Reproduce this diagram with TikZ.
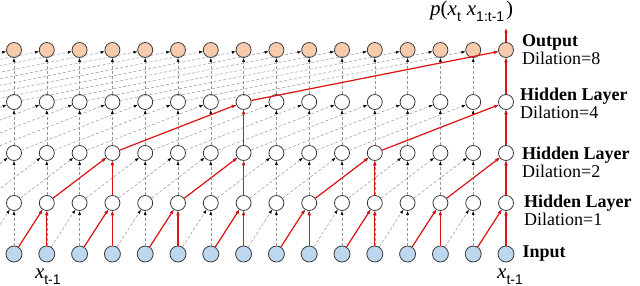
\documentclass[tikz,border=0pt]{standalone}
\usepackage{fontspec}
\setmainfont{Liberation Serif}
\setsansfont{Liberation Sans}
\usetikzlibrary{arrows.meta, positioning}
\definecolor{outpeach}{RGB}{248,203,173}
\definecolor{inblue}{RGB}{189,215,238}
\definecolor{ringgray}{RGB}{60,60,60}
\definecolor{pathred}{RGB}{222,20,20}
\definecolor{linkgray}{RGB}{150,150,150}
\newcommand{\lowsub}[1]{\raisebox{-6pt}{\fontsize{14}{14}\sffamily #1}}

\begin{document}
\begin{tikzpicture}[
    x=1pt, y=-1pt,
    unit/.style={circle, draw=ringgray, line width=0.8pt, inner sep=0pt, minimum size=15pt, fill=white},
    outunit/.style={unit, fill=outpeach},
    inunit/.style={unit, fill=inblue, minimum size=16pt},
    link/.style={-{Latex[length=4pt,width=3pt,color=black]}, linkgray, dash pattern=on 3pt off 2pt, line width=0.5pt},
    redlink/.style={-{Latex[length=4.5pt,width=3.5pt]}, pathred, line width=1.2pt},
    layer/.style={align=left, font=\fontsize{18}{18}\selectfont, inner sep=0pt},
    xlbl/.style={font=\fontsize{21}{21}\selectfont, inner sep=0pt}
]
\useasboundingbox (0,0) rectangle (640,286);
\clip (0,0) rectangle (640,286);

% units of each layer
\foreach \k in {0,...,15} {
  \node[inunit]  (in-\k)   at ({14+32.8*\k},254) {};
  \node[unit]    (hid1-\k) at ({14+32.8*\k},203) {};
  \node[unit]    (hid2-\k) at ({14+32.8*\k},153) {};
  \node[unit]    (hid3-\k) at ({14+32.8*\k},102) {};
  \node[outunit] (out-\k)  at ({14+32.8*\k},50) {};
}
% sources beyond the left edge
\foreach \k in {-8,...,-1} {
  \coordinate (in-\k)   at ({14+32.8*\k},254);
  \coordinate (hid1-\k) at ({14+32.8*\k},203);
  \coordinate (hid2-\k) at ({14+32.8*\k},153);
  \coordinate (hid3-\k) at ({14+32.8*\k},102);
}

% all connections
\foreach \lo/\hi/\d in {in/hid1/1, hid1/hid2/2, hid2/hid3/4, hid3/out/8}
  \foreach \k in {0,...,15} {
    \pgfmathtruncatemacro\src{\k-\d}
    \draw[link] (\lo-\src) -- (\hi-\k);
    \draw[link] (\lo-\k) -- (\hi-\k);
  }

% receptive field of the last output
\foreach \lo/\hi/\d/\cols in {in/hid1/1/{1,3,...,15}, hid1/hid2/2/{3,7,11,15}, hid2/hid3/4/{7,15}, hid3/out/8/{15}}
  \foreach \k in \cols {
    \pgfmathtruncatemacro\src{\k-\d}
    \draw[redlink] (\lo-\src) -- (\hi-\k);
    \draw[redlink] (\lo-\k) -- (\hi-\k);
  }

\coordinate (top) at ({14+32.8*15},28);
\draw[redlink] (out-15) -- (top);
\node[xlbl, anchor=base west] (prob) at (430,16) {\textit{p}(\textit{x}\lowsub{t}\hspace{6pt}\textit{x}\lowsub{1:t-1}\hspace{2pt})};

% layer labels
\node[layer, right=8pt of out-15] (lout) {\textbf{Output}\\Dilation=8};
\node[layer, right=6pt of hid3-15, yshift=-1.5pt] (lhid3) {\textbf{Hidden Layer}\\Dilation=4};
\node[layer, right=8pt of hid2-15, yshift=-9pt] (lhid2) {\textbf{Hidden Layer}\\Dilation=2};
\node[layer, right=10pt of hid1-15, yshift=-7.5pt] (lhid1) {\textbf{Hidden Layer}\\Dilation=1};
\node[layer, right=8pt of in-15] (lin) {\textbf{Input}};

\node[xlbl, anchor=base west] (xfirst) at ([xshift=-12pt, yshift=-16pt]in-1.south) {\textit{x}\lowsub{t-1}};
\node[xlbl, anchor=base west] (xlast) at ([xshift=-9pt, yshift=-16pt]in-15.south) {\textit{x}\lowsub{t-1}};
\end{tikzpicture}
\end{document}
